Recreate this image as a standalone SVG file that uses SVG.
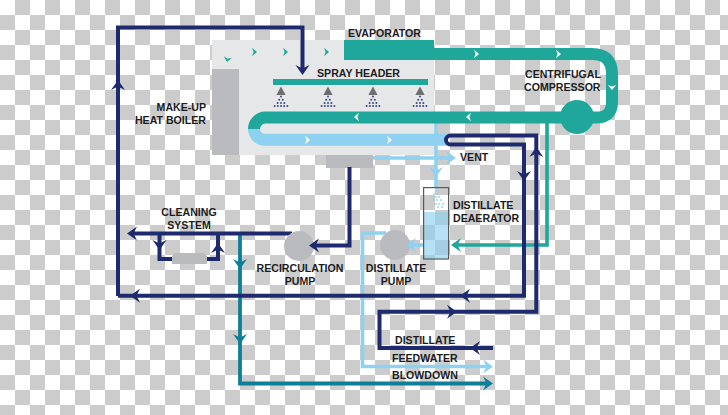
<svg xmlns="http://www.w3.org/2000/svg" xmlns:xlink="http://www.w3.org/1999/xlink" width="728" height="415" viewBox="0 0 728 415">
<style>
text{font-family:"Liberation Sans",Arial,sans-serif;font-weight:700;font-size:10.6px;fill:#1c1c1e}
.m{text-anchor:middle}.e{text-anchor:end}
.ln{fill:none;stroke-linejoin:miter}
.navy{stroke:#1f2a6e;stroke-width:4}
.teal{stroke:#1fa79b;stroke-width:3.6}
.dteal{stroke:#0d7f98;stroke-width:3.8}
.sky{stroke:#8fd1f0;stroke-width:3.6}
.band{fill:none;stroke-width:12}
.fn{fill:#1f2a6e}.ft{fill:#1fa79b}.fd{fill:#0d7f98}.fs{fill:#8fd1f0}.fw{fill:#fff}
.pump{fill:#b9bbbe}
.noz{fill:#6d6e71}
.drop{fill:#3c4785}
</style>
<defs>
<pattern id="chk" width="30" height="30" patternUnits="userSpaceOnUse">
<rect width="30" height="30" fill="#fff"/>
<rect x="15" width="15" height="15" fill="#ccc"/>
<rect y="15" width="15" height="15" fill="#ccc"/>
</pattern>
<path id="a" d="M0 0L-10 -7L-6.500 0L-10 7Z"/>
<path id="s" d="M0 0L-5 -4.200L-3.400 0L-5 4.200Z"/>
<g id="spray">
<path class="noz" d="M0 0L4.600 8.600H-4.600Z"/>
<g class="drop">
<circle cx="0" cy="10" r="1"/>
<circle cx="-1.800" cy="13.200" r="1"/><circle cx="1.800" cy="13.200" r="1"/>
<circle cx="-3.400" cy="16.400" r="1"/><circle cx="0" cy="16.400" r="1"/><circle cx="3.400" cy="16.400" r="1"/>
<circle cx="-6.400" cy="19.600" r="1"/><circle cx="-3.200" cy="19.600" r="1"/><circle cx="0" cy="19.600" r="1"/><circle cx="3.200" cy="19.600" r="1"/><circle cx="6.400" cy="19.600" r="1"/>
</g>
</g>
</defs>
<rect width="728" height="415" fill="url(#chk)"/>

<g id="heat-exchanger-casing">
<rect x="212" y="40" width="222" height="115" fill="#e6e7e8"/>
</g>
<g id="make-up-heat-boiler">
<rect x="212" y="69" width="27" height="86" fill="#b9bbbe"/>
<text class="e" x="206" y="111">MAKE-UP</text>
<text class="e" x="206" y="124">HEAT BOILER</text>
</g>
<g id="sump"><rect x="326" y="155" width="47" height="13" fill="#b9bbbe"/></g>

<g id="connectors">
<path class="ln sky" d="M436 123V188"/>
<path class="ln sky" d="M373 158H452"/>
<path class="ln sky" d="M423 245H410"/>
<path class="ln sky" d="M386 233H362.500V366.500H488"/>
<path class="band" stroke="#8fd1f0" d="M447 139.800H265A10.900 10.900 0 0 1 254 129"/>
<path class="ln dteal" d="M240 234V383.500H488"/>
<path class="ln teal" d="M547 120V245H456"/>
<path class="ln navy" d="M118 296V27.500H302.500V70"/>
<path class="ln navy" d="M349.500 167V245.500H314"/>
<path class="ln navy" d="M292 233.500H132"/>
<path class="ln navy" d="M159.500 233.500V259H172M207 259H218V233.500"/>
<path class="ln navy" d="M118 295.700H524V144.500H450.500A4.500 4.500 0 0 1 450.500 135.500H536.300V311.700H379.500V348H493"/>
</g>

<g id="evaporator">
<rect x="344" y="40" width="90" height="20" fill="#1fa79b"/>
<text x="348" y="37">EVAPORATOR</text>
</g>
<g id="vapor-loop">
<path class="band" stroke="#1fa79b" d="M430 54H592Q612 54 612 74V102Q612 117.600 596 117.600H265A11.500 11.500 0 0 0 254 129"/>
</g>
<g id="spray-header">
<rect x="273" y="79" width="155" height="6" fill="#1fa79b"/>
<use xlink:href="#spray" href="#spray" x="281" y="86.500"/>
<use xlink:href="#spray" href="#spray" x="328" y="86.500"/>
<use xlink:href="#spray" href="#spray" x="373" y="86.500"/>
<use xlink:href="#spray" href="#spray" x="420" y="86.500"/>
<text x="317" y="77">SPRAY HEADER</text>
</g>
<g id="centrifugal-compressor">
<circle cx="577" cy="117" r="17" fill="#1fa79b"/>
<text x="525" y="78">CENTRIFUGAL</text>
<text x="524" y="91">COMPRESSOR</text>
</g>
<g id="vent"><text x="460" y="161">VENT</text></g>
<g id="distillate-deaerator">
<rect x="423.600" y="212" width="25" height="47" fill="#8fd1f0" fill-opacity=".65"/>
<rect x="423.600" y="187.600" width="25" height="71.400" fill="none" stroke="#58595b" stroke-width="1.200"/>
<g fill="#8fd1f0">
<circle cx="436" cy="191" r=".9"/><circle cx="434" cy="194" r=".9"/><circle cx="438" cy="194" r=".9"/><circle cx="433" cy="197" r=".9"/><circle cx="436" cy="197" r=".9"/><circle cx="439" cy="197" r=".9"/><circle cx="434" cy="200" r=".9"/><circle cx="437" cy="200" r=".9"/><circle cx="441" cy="200" r=".9"/><circle cx="436" cy="204" r=".9"/><circle cx="439" cy="204" r=".9"/><circle cx="443" cy="204" r=".9"/><circle cx="438" cy="207" r=".9"/><circle cx="442" cy="207" r=".9"/>
</g>
<text x="453" y="209">DISTILLATE</text>
<text x="453" y="222">DEAERATOR</text>
</g>
<g id="distillate-pump">
<circle class="pump" cx="395" cy="245" r="15"/>
<text class="m" x="396" y="272">DISTILLATE</text>
<text class="m" x="396" y="285">PUMP</text>
</g>
<g id="recirculation-pump">
<circle class="pump" cx="299" cy="246" r="15"/>
<text class="m" x="300" y="272">RECIRCULATION</text>
<text class="m" x="300" y="285">PUMP</text>
</g>
<g id="cleaning-system">
<path class="pump" d="M175 253H204L207 256V264H172V256Z"/>
<text class="m" x="189" y="216">CLEANING</text>
<text class="m" x="189" y="229">SYSTEM</text>
</g>
<g id="distillate-in"><text x="395" y="344">DISTILLATE</text></g>
<g id="feedwater"><text x="392" y="362">FEEDWATER</text></g>
<g id="blowdown"><text x="392" y="379">BLOWDOWN</text></g>

<g id="arrowheads">
<use href="#a" class="fn" transform="translate(118 80) rotate(-90)"/>
<use href="#a" class="fn" transform="translate(302.500 75) rotate(90)"/>
<use href="#a" class="fn" transform="translate(309 245.500) rotate(180)"/>
<use href="#a" class="fn" transform="translate(127 233.500) rotate(180)"/>
<use href="#a" class="fn" transform="translate(159.500 250) rotate(90)"/>
<use href="#a" class="fn" transform="translate(218 243) rotate(-90)"/>
<use href="#a" class="fn" transform="translate(130 295.700) rotate(180)"/>
<use href="#a" class="fn" transform="translate(460 295.700) rotate(180)"/>
<use href="#a" class="fn" transform="translate(524 181) rotate(90)"/>
<use href="#a" class="fn" transform="translate(536.300 147) rotate(-90)"/>
<use href="#a" class="fn" transform="translate(457 311.700)"/>
<use href="#a" class="fn" transform="translate(470 348) rotate(180)"/>
<use href="#a" class="ft" transform="translate(451 245) rotate(180)"/>
<use href="#a" class="fs" transform="translate(456 158)"/>
<use href="#a" class="fs" transform="translate(436 177) rotate(90)"/>
<use href="#a" class="fs" transform="translate(406 245) rotate(180)"/>
<use href="#a" class="fs" transform="translate(493 366.500)"/>
<use href="#a" class="fd" transform="translate(240 269) rotate(90)"/>
<use href="#a" class="fd" transform="translate(240 344) rotate(90)"/>
<use href="#a" class="fd" transform="translate(493 383.500)"/>
<use href="#s" class="ft" transform="translate(257 52)"/>
<use href="#s" class="ft" transform="translate(288 52)"/>
<use href="#s" class="ft" transform="translate(329 52)"/>
<use href="#s" class="ft" transform="translate(227 62) rotate(100)"/>
<use href="#s" class="fw" transform="translate(479 54)"/>
<use href="#s" class="fw" transform="translate(561 54)"/>
<use href="#s" class="fw" transform="translate(612 90) rotate(90)"/>
<use href="#s" class="fw" transform="translate(354 117) rotate(180)"/>
<use href="#s" class="fw" transform="translate(466 117) rotate(180)"/>
<use href="#s" class="fw" transform="translate(310 140)"/>
<use href="#s" class="fw" transform="translate(392 140)"/>
</g>
</svg>
